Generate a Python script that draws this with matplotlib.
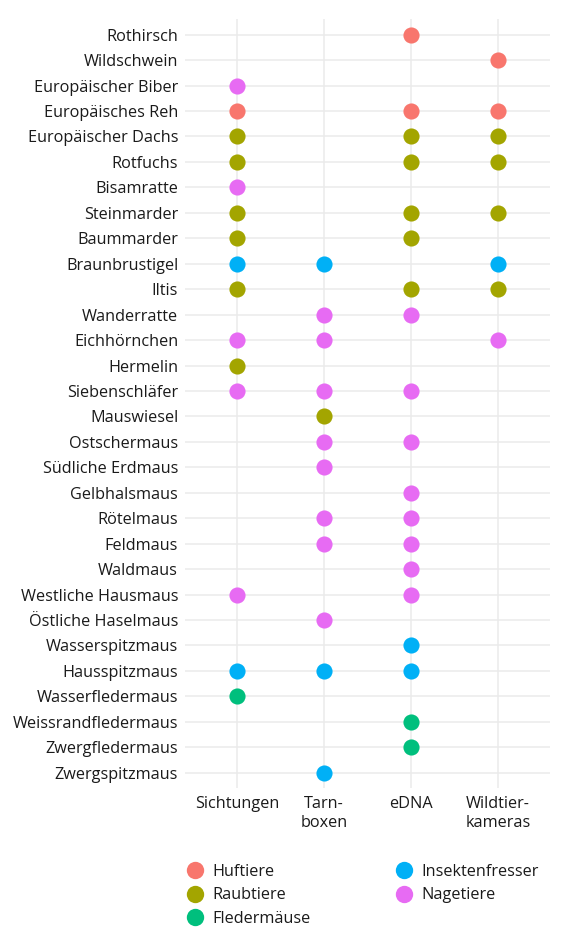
import numpy as np
import matplotlib.pyplot as plt
from matplotlib.lines import Line2D

plt.rcParams['font.family'] = ['Open Sans', 'DejaVu Sans']

# species from top to bottom
species = ['Rothirsch', 'Wildschwein', 'Europäischer Biber', 'Europäisches Reh',
           'Europäischer Dachs', 'Rotfuchs', 'Bisamratte', 'Steinmarder', 'Baummarder',
           'Braunbrustigel', 'Iltis', 'Wanderratte', 'Eichhörnchen', 'Hermelin',
           'Siebenschläfer', 'Mauswiesel', 'Ostschermaus', 'Südliche Erdmaus',
           'Gelbhalsmaus', 'Rötelmaus', 'Feldmaus', 'Waldmaus', 'Westliche Hausmaus',
           'Östliche Haselmaus', 'Wasserspitzmaus', 'Hausspitzmaus', 'Wasserfledermaus',
           'Weissrandfledermaus', 'Zwergfledermaus', 'Zwergspitzmaus']
gruppe = ['Huftiere', 'Huftiere', 'Nagetiere', 'Huftiere',
          'Raubtiere', 'Raubtiere', 'Nagetiere', 'Raubtiere', 'Raubtiere',
          'Insektenfresser', 'Raubtiere', 'Nagetiere', 'Nagetiere', 'Raubtiere',
          'Nagetiere', 'Raubtiere', 'Nagetiere', 'Nagetiere',
          'Nagetiere', 'Nagetiere', 'Nagetiere', 'Nagetiere', 'Nagetiere',
          'Nagetiere', 'Insektenfresser', 'Insektenfresser', 'Fledermäuse',
          'Fledermäuse', 'Fledermäuse', 'Insektenfresser']

methoden = ['Sichtungen', 'Tarn-\nboxen', 'eDNA', 'Wildtier-\nkameras']
sichtungen = [0, 0, 1, 1, 1, 1, 1, 1, 1, 1, 1, 0, 1, 1, 1, 0, 0, 0, 0, 0, 0, 0, 1, 0, 0, 1, 1, 0, 0, 0]
tarnboxen  = [0, 0, 0, 0, 0, 0, 0, 0, 0, 1, 0, 1, 1, 0, 1, 1, 1, 1, 0, 1, 1, 0, 0, 1, 0, 1, 0, 0, 0, 1]
edna       = [1, 0, 0, 1, 1, 1, 0, 1, 1, 0, 1, 1, 0, 0, 1, 0, 1, 0, 1, 1, 1, 1, 1, 0, 1, 1, 0, 1, 1, 0]
kameras    = [0, 1, 0, 1, 1, 1, 0, 1, 0, 1, 1, 0, 1, 0, 0, 0, 0, 0, 0, 0, 0, 0, 0, 0, 0, 0, 0, 0, 0, 0]

gruppen = ['Huftiere', 'Raubtiere', 'Fledermäuse', 'Insektenfresser', 'Nagetiere']
farben = {'Huftiere': '#F8766D', 'Raubtiere': '#A3A500', 'Fledermäuse': '#00BF7D',
          'Insektenfresser': '#00B0F6', 'Nagetiere': '#E76BF3'}

fig = plt.figure(figsize=(5.66, 9.43), dpi=100)
ax = fig.add_axes([0.327, 0.1644, 0.645, 0.815])

n = len(species)
for j, treffer in enumerate([sichtungen, tarnboxen, edna, kameras]):
    for i, t in enumerate(treffer):
        if t:
            ax.scatter(j, n - 1 - i, s=135, color=farben[gruppe[i]], zorder=3, linewidths=0)

ax.set_xlim(-0.6, 3.6)
ax.set_ylim(-0.6, n - 1 + 0.6)
ax.set_xticks(range(4))
ax.set_xticklabels(methoden, fontsize=11.7, color='#1a1a1a', linespacing=1.25)
ax.set_yticks(range(n))
ax.set_yticklabels(species[::-1], fontsize=11.7, color='#1a1a1a')
ax.tick_params(length=0, pad=5)
ax.tick_params(axis='x', pad=6)
ax.grid(True, color='#EBEBEB', linewidth=1.1)
ax.set_axisbelow(True)
for s in ax.spines.values():
    s.set_visible(False)

handles = [Line2D([], [], marker='o', linestyle='', markersize=12.5,
                  markerfacecolor=farben[g], markeredgewidth=0) for g in gruppen]
fig.legend(handles, gruppen, loc='upper left', bbox_to_anchor=(0.316, 0.091),
           ncol=2, frameon=False, fontsize=11.7, handletextpad=0.45,
           columnspacing=5.15, labelspacing=0.47, borderaxespad=0, handlelength=1.2,
           labelcolor='#1a1a1a')

fig.savefig('out.png', dpi=100, facecolor='white')
